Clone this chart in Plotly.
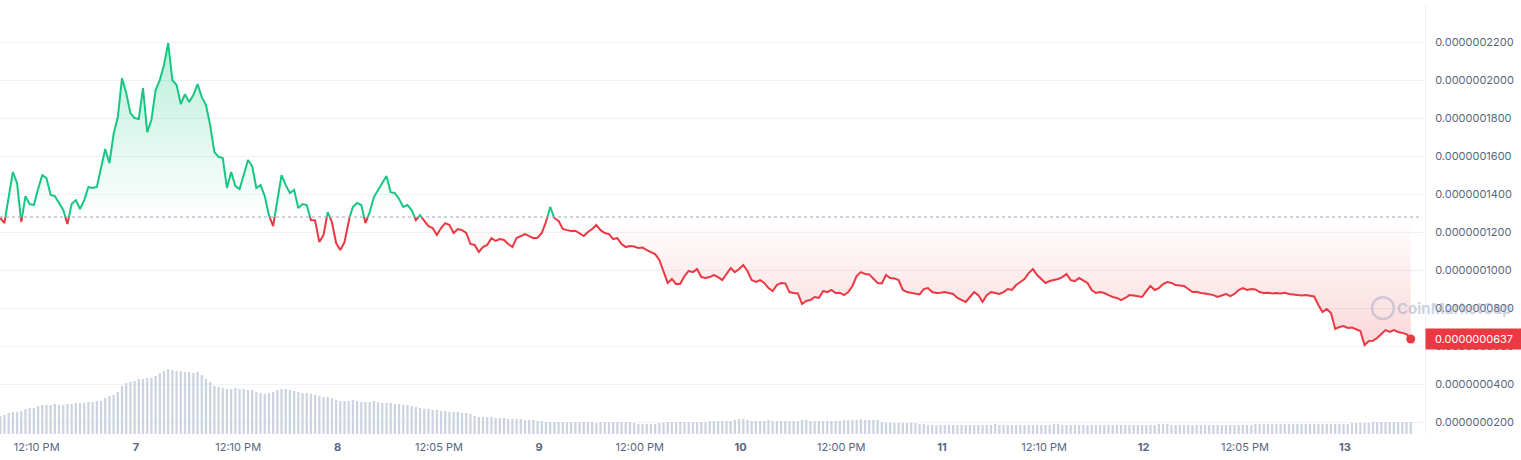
import numpy as np
import pandas as pd
import plotly.graph_objects as go

# ---------------- data ----------------
PRICE_UNIT = 1e-10          # prices below are in units of 1e-10
START = "2024-06-06 07:50"
STEP = "30min"
BASELINE = 1279             # reference (opening) price, units of 1e-10

PRICE = [
    1274, 1247, 1395, 1516, 1458, 1253, 1389, 1347, 1342, 1426,
    1500, 1484, 1395, 1389, 1353, 1316, 1242, 1347, 1368, 1321,
    1368, 1437, 1432, 1437, 1537, 1637, 1563, 1716, 1805, 2010,
    1932, 1826, 1800, 1795, 1958, 1726, 1789, 1947, 2000, 2079,
    2195, 2000, 1974, 1874, 1926, 1884, 1921, 1979, 1910, 1868,
    1763, 1621, 1595, 1589, 1432, 1516, 1442, 1426, 1500, 1579,
    1547, 1432, 1447, 1389, 1289, 1231, 1368, 1500, 1447, 1405,
    1421, 1326, 1347, 1342, 1263, 1261, 1147, 1184, 1305, 1253,
    1142, 1105, 1147, 1263, 1332, 1353, 1342, 1247, 1305, 1384,
    1421, 1463, 1495, 1410, 1405, 1374, 1332, 1342, 1316, 1263,
    1289, 1258, 1231, 1221, 1184, 1221, 1247, 1237, 1195, 1216,
    1210, 1195, 1137, 1132, 1095, 1121, 1132, 1168, 1153, 1163,
    1158, 1137, 1121, 1168, 1179, 1189, 1179, 1168, 1170, 1195,
    1253, 1332, 1274, 1258, 1216, 1210, 1205, 1207, 1195, 1179,
    1200, 1216, 1237, 1210, 1195, 1189, 1163, 1168, 1137, 1121,
    1126, 1124, 1116, 1118, 1105, 1095, 1084, 1053, 989, 932,
    953, 926, 928, 968, 995, 989, 1005, 963, 958, 963,
    974, 963, 947, 979, 1011, 989, 1005, 1026, 995, 947,
    937, 947, 932, 905, 889, 921, 932, 930, 884, 879,
    877, 821, 837, 842, 858, 853, 889, 884, 895, 879,
    881, 868, 884, 916, 968, 989, 979, 977, 953, 932,
    930, 974, 958, 956, 947, 895, 884, 879, 874, 872,
    900, 905, 884, 879, 881, 884, 879, 874, 853, 842,
    832, 858, 884, 868, 832, 868, 884, 879, 874, 884,
    900, 895, 921, 937, 953, 984, 1005, 974, 953, 932,
    942, 947, 953, 963, 979, 947, 942, 958, 947, 932,
    895, 879, 884, 879, 868, 858, 853, 842, 853, 868,
    866, 863, 858, 889, 916, 895, 905, 926, 937, 932,
    921, 919, 916, 900, 884, 886, 879, 877, 874, 868,
    858, 868, 874, 863, 874, 895, 905, 895, 900, 898,
    884, 879, 881, 877, 879, 876, 880, 874, 872, 868,
    866, 868, 863, 861, 816, 779, 795, 774, 690, 700,
    705, 695, 697, 690, 679, 605, 626, 628, 642, 663,
    684, 674, 684, 674, 668, 663, 637,
]

VOLUME = [
    18, 19, 21, 22, 22, 23, 25, 26, 26, 28,
    29, 29, 29, 30, 29, 29, 30, 30, 31, 31,
    31, 32, 32, 33, 33, 36, 38, 39, 42, 48,
    51, 52, 53, 55, 55, 56, 56, 58, 61, 63,
    65, 64, 63, 63, 62, 62, 61, 62, 59, 55,
    52, 48, 47, 46, 45, 45, 46, 45, 45, 44,
    44, 42, 41, 40, 41, 42, 44, 45, 45, 44,
    43, 42, 41, 41, 40, 39, 38, 37, 37, 36,
    34, 33, 33, 33, 34, 33, 32, 32, 32, 33,
    32, 31, 31, 31, 30, 30, 29, 29, 28, 27,
    26, 25, 25, 24, 24, 23, 23, 22, 22, 22,
    21, 21, 20, 18, 17, 17, 17, 17, 16, 16,
    16, 15, 15, 15, 15, 14, 14, 14, 13, 13,
    12, 12, 12, 12, 12, 12, 12, 12, 12, 12,
    12, 12, 11, 12, 12, 12, 12, 12, 12, 12,
    12, 11, 10, 10, 10, 10, 10, 11, 11, 12,
    12, 12, 12, 12, 12, 12, 12, 12, 12, 13,
    13, 13, 13, 13, 13, 14, 15, 15, 14, 13,
    13, 13, 13, 14, 13, 13, 13, 13, 13, 13,
    13, 14, 14, 13, 13, 13, 13, 13, 13, 13,
    13, 14, 14, 14, 14, 15, 14, 14, 14, 14,
    12, 11, 11, 11, 11, 11, 11, 11, 11, 10,
    10, 9, 9, 9, 9, 9, 9, 9, 9, 9,
    9, 9, 9, 9, 9, 9, 9, 10, 9, 9,
    9, 9, 9, 9, 9, 9, 9, 9, 9, 9,
    9, 10, 10, 9, 9, 9, 9, 9, 9, 9,
    9, 9, 9, 9, 9, 9, 9, 9, 9, 9,
    9, 9, 9, 9, 9, 9, 10, 10, 10, 9,
    9, 9, 9, 9, 9, 9, 9, 9, 9, 9,
    9, 9, 9, 9, 9, 9, 9, 9, 9, 10,
    10, 10, 10, 10, 10, 10, 10, 10, 10, 10,
    10, 10, 10, 10, 10, 10, 10, 10, 10, 10,
    10, 10, 11, 11, 11, 11, 11, 12, 12, 12,
    12, 12, 12, 12, 12, 12, 12,
]

X_TICK_TIMES = [
    "2024-06-06 12:10", "2024-06-07 00:00", "2024-06-07 12:10", "2024-06-08 00:00",
    "2024-06-08 12:05", "2024-06-09 00:00", "2024-06-09 12:00", "2024-06-10 00:00",
    "2024-06-10 12:00", "2024-06-11 00:00", "2024-06-11 12:10", "2024-06-12 00:00",
    "2024-06-12 12:05", "2024-06-13 00:00",
]
X_TICK_TEXT = [
    "12:10 PM", "<b>7</b>", "12:10 PM", "<b>8</b>", "12:05 PM", "<b>9</b>",
    "12:00 PM", "<b>10</b>", "12:00 PM", "<b>11</b>", "12:10 PM", "<b>12</b>",
    "12:05 PM", "<b>13</b>",
]
X_RANGE = ["2024-06-06 07:48", "2024-06-13 09:32"]
Y_TICKS = [200, 400, 600, 800, 1000, 1200, 1400, 1600, 1800, 2000, 2200]
Y_RANGE = [137, 2395]
LAST_LABEL = "0.0000000637"

GREEN = "#16c784"
RED = "#ea3943"

# ---------------- processing ----------------
price = np.array(PRICE, dtype=float) * PRICE_UNIT
base = BASELINE * PRICE_UNIT
times = pd.date_range(START, periods=len(price), freq=STEP)
t_ns = times.asi8.astype(float)

# insert baseline crossing points so that colours switch exactly at the baseline
xs, ys = [], []
for k in range(len(price)):
    if k > 0:
        p0, p1 = price[k - 1], price[k]
        if (p0 - base) * (p1 - base) < 0:
            f = (base - p0) / (p1 - p0)
            xs.append(t_ns[k - 1] + f * (t_ns[k] - t_ns[k - 1]))
            ys.append(base)
    xs.append(t_ns[k])
    ys.append(price[k])
xs = pd.to_datetime(np.array(xs).astype("int64"))
ys = np.array(ys)

green_y = [v if v >= base else None for v in ys]
red_y = [v if v <= base else None for v in ys]
base_y = [base] * len(ys)

vol_times = times[: len(VOLUME)]

fig = go.Figure()

# volume bars (own hidden axis)
fig.add_trace(go.Bar(
    x=vol_times, y=VOLUME[: len(vol_times)], yaxis="y2",
    marker=dict(color="#cdd4e1", line=dict(width=0)),
    hoverinfo="skip",
))

# green area
fig.add_trace(go.Scatter(x=xs, y=base_y, mode="lines", line=dict(width=0), hoverinfo="skip"))
fig.add_trace(go.Scatter(
    x=xs, y=np.maximum(ys, base), mode="lines", line=dict(width=0), fill="tonexty",
    fillgradient=dict(type="vertical", start=base, stop=float(price.max()),
                      colorscale=[[0, "rgba(22,199,132,0)"], [1, "rgba(22,199,132,0.30)"]]),
    hoverinfo="skip",
))
# red area
fig.add_trace(go.Scatter(x=xs, y=base_y, mode="lines", line=dict(width=0), hoverinfo="skip"))
fig.add_trace(go.Scatter(
    x=xs, y=np.minimum(ys, base), mode="lines", line=dict(width=0), fill="tonexty",
    fillgradient=dict(type="vertical", start=float(price.min()), stop=base,
                      colorscale=[[0, "rgba(234,57,67,0.20)"], [1, "rgba(234,57,67,0)"]]),
    hoverinfo="skip",
))

# price line
fig.add_trace(go.Scatter(x=xs, y=red_y, mode="lines", line=dict(color=RED, width=2),
                         connectgaps=False))
fig.add_trace(go.Scatter(x=xs, y=green_y, mode="lines", line=dict(color=GREEN, width=2),
                         connectgaps=False))
# last point dot
fig.add_trace(go.Scatter(x=[times[-1]], y=[price[-1]], mode="markers",
                         marker=dict(color=RED, size=9)))

# dotted baseline
fig.add_shape(type="line", xref="paper", yref="y", x0=0, x1=0.996, y0=base, y1=base,
              line=dict(color="#9aa4b8", width=1, dash="dot"))

# watermark
fig.add_shape(type="circle", xref="paper", yref="paper", x0=0.9628, x1=0.9782, y0=0.268, y1=0.319,
              line=dict(color="rgba(140,155,185,0.40)", width=2.5))
fig.add_annotation(xref="paper", yref="paper", x=1.021, y=0.2937, xanchor="center", yanchor="middle",
                   text="<b>CoinMarketCap</b>", showarrow=False,
                   font=dict(size=15, color="rgba(140,155,185,0.45)", family="Inter"))

# last price label
fig.add_annotation(xref="paper", yref="y", x=1.0, y=price[-1], xanchor="left", yanchor="middle",
                   text=LAST_LABEL, showarrow=False, bgcolor=RED, width=90, borderpad=3,
                   align="center", font=dict(size=11, color="white", family="Inter"))

fig.update_layout(
    width=1521, height=460,
    margin=dict(l=0, r=96, t=5, b=26, autoexpand=False),
    plot_bgcolor="white", paper_bgcolor="white",
    showlegend=False, bargap=0.45,
    font=dict(family="Inter", color="#58667e", size=11),
    xaxis=dict(type="date", range=X_RANGE, tickvals=X_TICK_TIMES, ticktext=X_TICK_TEXT,
               showgrid=False, zeroline=False, showline=False, automargin=False,
               ticks="outside", ticklen=3, tickcolor="rgba(0,0,0,0)",
               tickfont=dict(size=11, color="#58667e")),
    yaxis=dict(side="right", range=[Y_RANGE[0] * PRICE_UNIT, Y_RANGE[1] * PRICE_UNIT],
               tickvals=[v * PRICE_UNIT for v in Y_TICKS], tickformat=".10f",
               gridcolor="#eff2f5", gridwidth=1, zeroline=False, automargin=False,
               showline=True, linecolor="#eff2f5", linewidth=1,
               ticklabelstandoff=7, tickfont=dict(size=11, color="#58667e")),
    yaxis2=dict(overlaying="y", range=[0, 429], visible=False),
)

fig.write_html("out.html", config={"displayModeBar": False},
               post_script="document.body.style.margin='0px';document.body.style.padding='0px';")
